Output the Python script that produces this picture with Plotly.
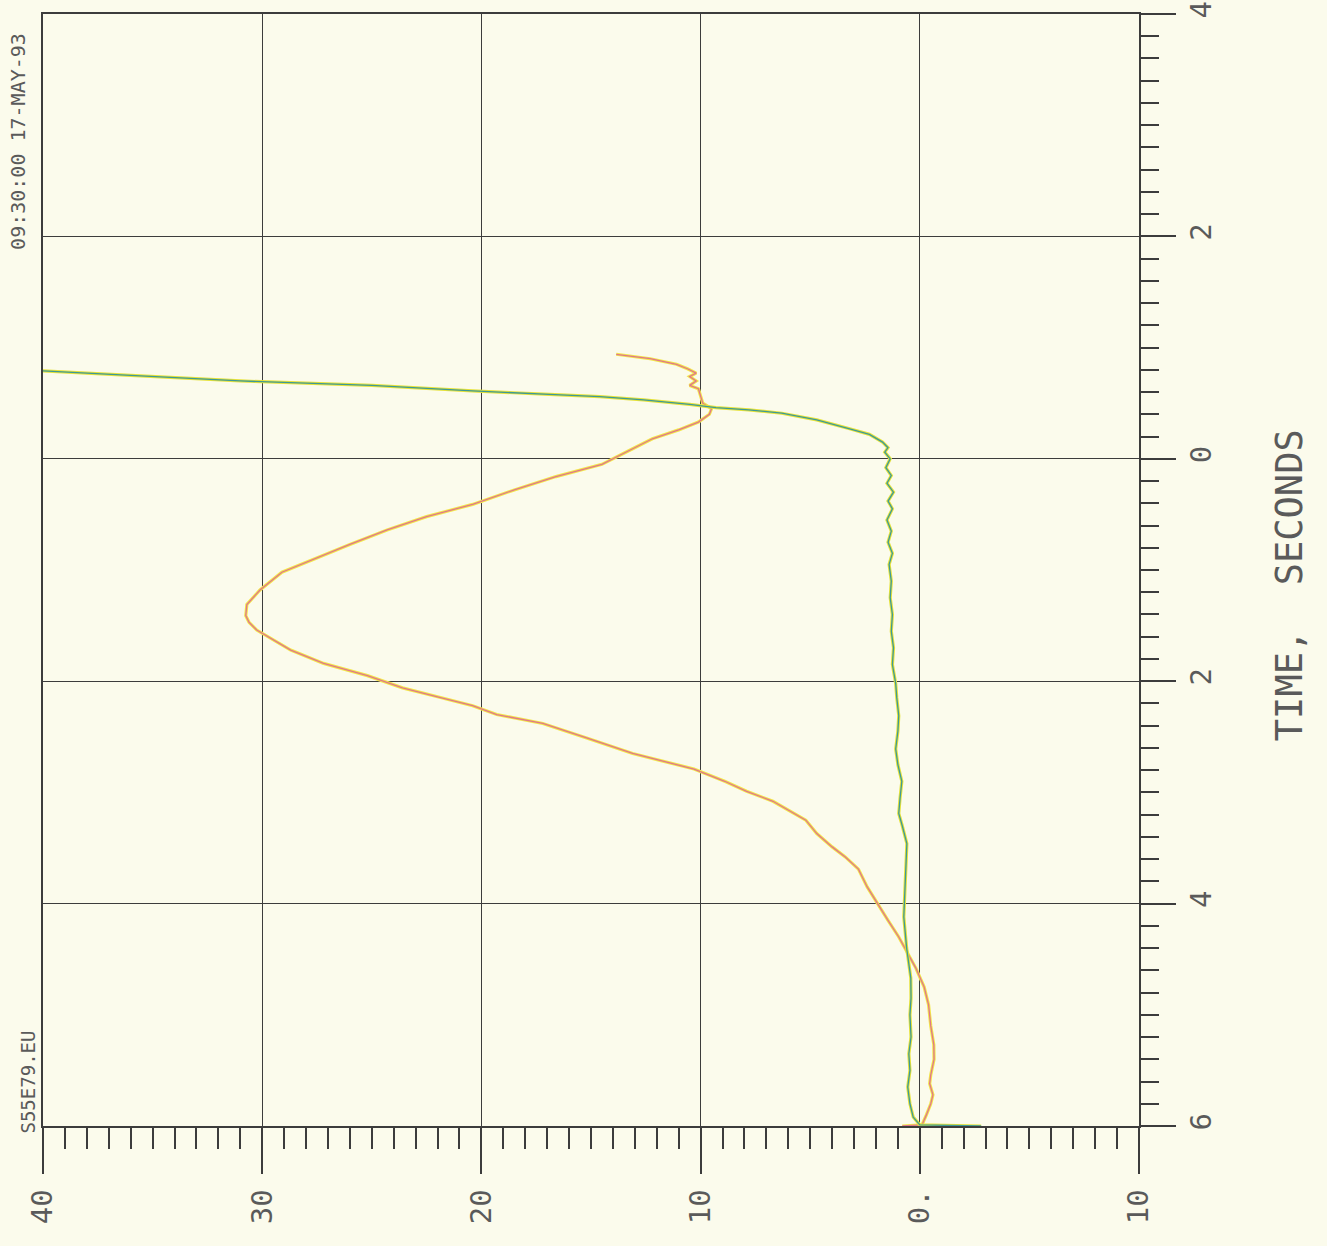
import plotly.graph_objects as go

# time in seconds (vertical axis) and signal value (horizontal axis, reversed)
orange_t = [-6.00, -5.99, -5.90, -5.80, -5.72, -5.62, -5.54, -5.40, -5.27, -5.10,
            -4.91, -4.75, -4.58, -4.45, -4.30, -4.15, -4.01, -3.85, -3.69, -3.58,
            -3.49, -3.37, -3.25, -3.08, -2.99, -2.90, -2.79, -2.65, -2.51, -2.38,
            -2.30, -2.22, -2.14, -2.06, -1.95, -1.84, -1.72, -1.62, -1.54, -1.47,
            -1.41, -1.31, -1.18, -1.02, -0.89, -0.77, -0.64, -0.52, -0.41, -0.28,
            -0.16, -0.05, 0.07, 0.18, 0.26, 0.33, 0.40, 0.45, 0.50, 0.56,
            0.63, 0.66, 0.70, 0.74, 0.77, 0.81, 0.85, 0.90, 0.94]
orange_v = [0.8, -0.1, -0.3, -0.5, -0.6, -0.45, -0.5, -0.65, -0.64, -0.5,
            -0.4, -0.2, 0.18, 0.55, 0.96, 1.45, 1.9, 2.4, 2.8, 3.4,
            4.0, 4.7, 5.2, 6.7, 7.9, 8.9, 10.3, 13.1, 15.2, 17.2,
            19.3, 20.4, 22.0, 23.6, 25.2, 27.2, 28.7, 29.6, 30.25, 30.6,
            30.75, 30.7, 30.1, 29.1, 27.5, 26.0, 24.3, 22.5, 20.4, 18.5,
            16.6, 14.5, 13.3, 12.2, 11.0, 10.1, 9.6, 9.5, 9.9, 10.0,
            10.1, 10.5, 10.2, 10.5, 10.2, 10.6, 11.1, 12.3, 13.85]

green_t = [-6.00, -5.99, -5.92, -5.80, -5.65, -5.50, -5.35, -5.20, -5.00, -4.85,
           -4.67, -4.40, -4.12, -3.80, -3.46, -3.30, -3.19, -3.05, -2.90, -2.75,
           -2.61, -2.45, -2.31, -2.15, -2.02, -1.85, -1.70, -1.55, -1.40, -1.25,
           -1.10, -0.95, -0.85, -0.75, -0.65, -0.55, -0.45, -0.38, -0.30, -0.22,
           -0.15, -0.08, 0.00, 0.06, 0.10, 0.15, 0.22, 0.27, 0.35, 0.41,
           0.44, 0.46, 0.49, 0.53, 0.56, 0.58, 0.61, 0.66, 0.70, 0.75, 0.80]
green_v = [-2.8, 0.0, 0.3, 0.45, 0.55, 0.45, 0.5, 0.4, 0.45, 0.4,
           0.41, 0.6, 0.73, 0.65, 0.59, 0.8, 0.96, 0.9, 0.82, 1.0,
           1.1, 1.0, 0.96, 1.05, 1.1, 1.25, 1.2, 1.3, 1.25, 1.35,
           1.3, 1.4, 1.25, 1.45, 1.3, 1.5, 1.25, 1.45, 1.2, 1.5,
           1.3, 1.55, 1.35, 1.6, 1.45, 1.7, 2.3, 3.2, 4.7, 6.3,
           7.8, 9.3, 10.5, 12.6, 14.6, 16.9, 20.4, 25.0, 31.0, 36.0, 41.0]

value_ticks = [40, 30, 20, 10, 0, -10]
value_labels = ["40", "30", "20", "10", "0.", "10"]
time_ticks = [-6, -4, -2, 0, 2, 4]
time_labels = ["6", "4", "2", "0", "2", "4"]

ink = "#3c3c3c"
label_ink = "#5a5a5a"
paper = "#fbfbec"
font = "DejaVu Sans Mono"

fig = go.Figure()

# each pen stroke printed with a yellow ghost underneath
fig.add_trace(go.Scatter(x=orange_v, y=orange_t, mode="lines",
                         line=dict(color="#f2e64a", width=3.2), hoverinfo="skip"))
fig.add_trace(go.Scatter(x=orange_v, y=orange_t, mode="lines",
                         line=dict(color="#e0788a", width=1.3)))
fig.add_trace(go.Scatter(x=green_v, y=green_t, mode="lines",
                         line=dict(color="#e6e23a", width=3.2), hoverinfo="skip"))
fig.add_trace(go.Scatter(x=green_v, y=green_t, mode="lines",
                         line=dict(color="#3e9a96", width=1.3)))

fig.update_layout(
    width=1327, height=1246,
    margin=dict(l=43, r=188, t=14, b=120),
    paper_bgcolor=paper, plot_bgcolor=paper,
    showlegend=False,
    font=dict(family=font, color=label_ink),
    xaxis=dict(
        range=[40, -10], tickvals=value_ticks, ticktext=value_labels,
        tickangle=-90, tickfont=dict(size=29, family=font, color=label_ink),
        ticks="outside", ticklen=46, tickwidth=1.5, tickcolor=ink,
        ticklabelstandoff=4, ticklabeloverflow="allow",
        minor=dict(dtick=1, ticks="outside", ticklen=21, tickwidth=1.5,
                   tickcolor=ink, showgrid=False),
        showgrid=True, gridcolor=ink, gridwidth=1.3,
        showline=True, linecolor=ink, linewidth=1.5, mirror=True,
        zeroline=False, automargin=False,
    ),
    yaxis=dict(
        range=[-6, 4], side="right", tickvals=time_ticks, ticktext=time_labels,
        tickangle=-90, tickfont=dict(size=29, family=font, color=label_ink),
        ticks="outside", ticklen=35, tickwidth=1.5, tickcolor=ink,
        ticklabelstandoff=0, ticklabeloverflow="allow",
        minor=dict(dtick=0.2, ticks="outside", ticklen=18, tickwidth=1.5,
                   tickcolor=ink, showgrid=False),
        showgrid=True, gridcolor=ink, gridwidth=1.3,
        showline=True, linecolor=ink, linewidth=1.5, mirror=True,
        zeroline=False, automargin=False,
    ),
    annotations=[
        dict(text="09:30:00 17-MAY-93", xref="paper", yref="paper",
             x=-0.0228, y=0.885, textangle=-90, showarrow=False,
             xanchor="center", yanchor="middle",
             font=dict(size=20, family=font, color=label_ink)),
        dict(text="S55E79.EU", xref="paper", yref="paper",
             x=-0.0137, y=0.040, textangle=-90, showarrow=False,
             xanchor="center", yanchor="middle",
             font=dict(size=19, family=font, color=label_ink)),
        dict(text="TIME,  SECONDS", xref="paper", yref="paper",
             x=1.137, y=0.4865, textangle=-90, showarrow=False,
             xanchor="center", yanchor="middle",
             font=dict(size=37, family=font, color=label_ink)),
    ],
)

# drop the default page margin so the sheet fills the window
page_js = ("document.body.style.margin='0';"
           "document.body.style.background='%s';" % paper)
fig.write_html("out.html", post_script=page_js,
               config={"displayModeBar": False})
